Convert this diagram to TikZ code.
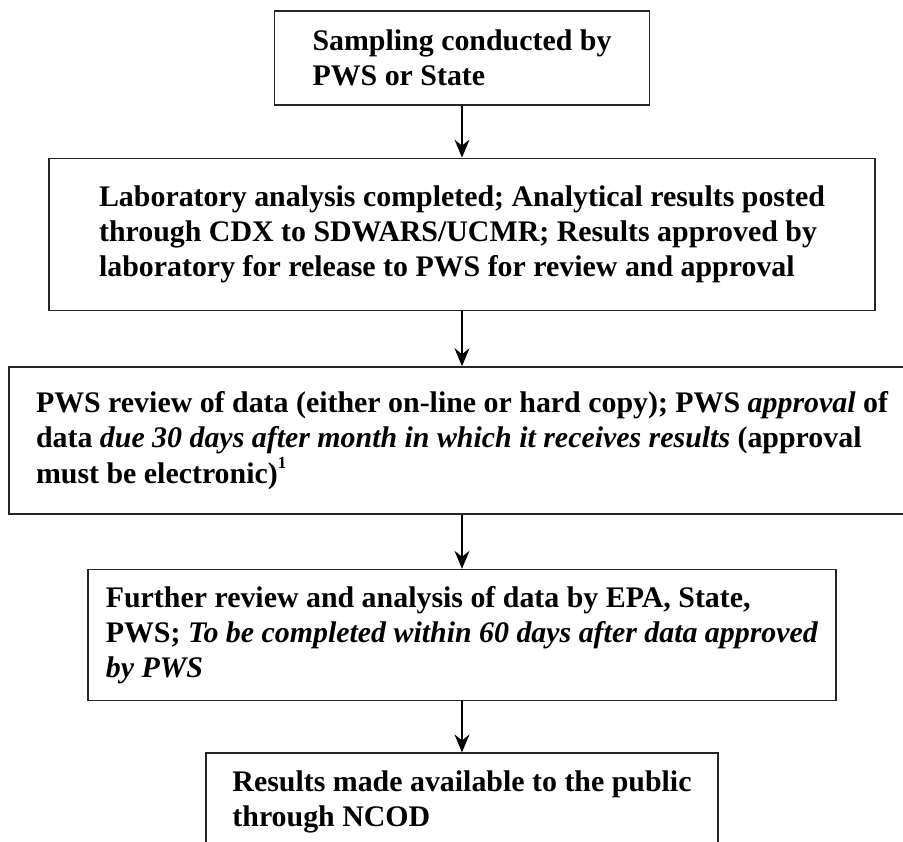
\documentclass[tikz,border=0pt]{standalone}
\usepackage{fontspec}
\setmainfont{Liberation Serif}
\usepackage{tikz}
\usetikzlibrary{arrows.meta, positioning}

\begin{document}
\begin{tikzpicture}[
    x=1bp, y=-1bp,
    stage/.style={
      draw=black!85, line width=1.6bp, align=left, inner sep=0pt,
      font=\fontsize{30}{35.5}\selectfont\bfseries
    },
    flow/.style={-{Stealth[length=18bp, width=15bp, inset=6bp]}, line width=1.2bp}
  ]
    \useasboundingbox (0,0) rectangle (903,842);
    \clip (0,0) rectangle (903,842);
    \node[stage, minimum width=375bp, minimum height=94bp, anchor=north] (sample) at (462,10) {
      Sampling conducted by\\
      PWS or State
    };
    \node[stage, minimum width=826bp, minimum height=152bp, below=52bp of sample] (lab) {
      Laboratory analysis completed; Analytical results posted\\
      through CDX to SDWARS/UCMR; Results approved by\\
      laboratory for release to PWS for review and approval
    };
    \node[stage, minimum width=906bp, minimum height=147bp, below=55bp of lab] (pws) {
      PWS review of data (either on-line or hard copy); PWS \textit{approval} of\\
      data \textit{due 30 days after month in which it receives results} (approval\\
      must be electronic)\raisebox{1.1ex}{\fontsize{17}{17}\selectfont 1}
    };
    \node[stage, minimum width=748bp, minimum height=131bp, below=54bp of pws] (epa) {
      Further review and analysis of data by EPA, State,\\
      PWS; \textit{To be completed within 60 days after data approved}\\
      \textit{by PWS}
    };
    \node[stage, minimum width=512bp, minimum height=98bp, below=51bp of epa] (ncod) {
      Results made available to the public\\
      through NCOD
    };
    \draw[flow] (sample) -- (lab);
    \draw[flow] (lab) -- (pws);
    \draw[flow] (pws) -- (epa);
    \draw[flow] (epa) -- (ncod);
  \end{tikzpicture}
\end{document}
